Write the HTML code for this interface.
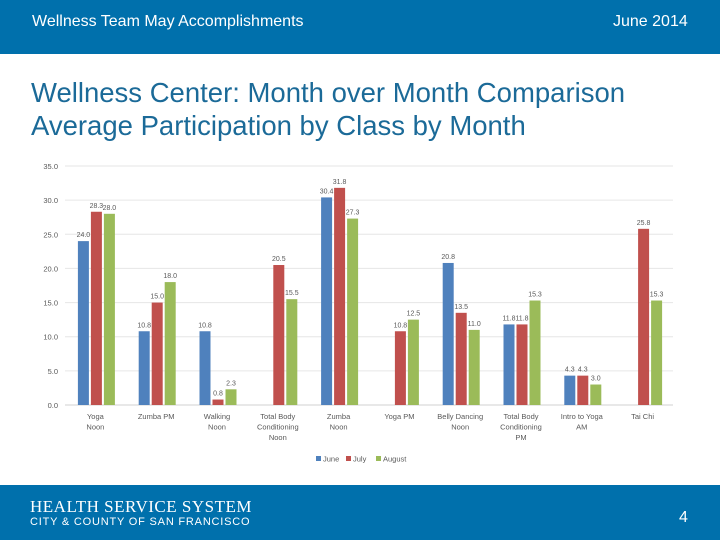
<!DOCTYPE html>
<html><head><meta charset="utf-8"><style>
body{margin:0;width:720px;height:540px;position:relative;background:#fff;font-family:"Liberation Sans",sans-serif;overflow:hidden}
#hdr{position:absolute;left:0;top:0;width:720px;height:54px;background:#0070ac}
#ftr{position:absolute;left:0;top:485px;width:720px;height:55px;background:#0070ac}
.t{position:absolute;white-space:nowrap}
</style></head><body>
<div id="hdr">
<div class="t" style="left:32px;top:13px;font-size:16px;color:#fff">Wellness Team May Accomplishments</div>
<div class="t" style="left:613px;top:13px;font-size:16px;color:#fff">June 2014</div>
</div>
<div class="t" style="left:31px;top:76px;font-size:27.5px;color:#1b6a98;line-height:33px">Wellness Center: Month over Month Comparison<br>Average Participation by Class by Month</div>
<svg id="chart" width="720" height="540" style="position:absolute;left:0;top:0"></svg>
<div id="ftr">
<div class="t" style="left:30px;top:12px;font-size:17px;color:#fff;font-family:'Liberation Serif',serif;letter-spacing:0.5px">HEALTH SERVICE SYSTEM</div>
<div class="t" style="left:30px;top:31px;font-size:11px;color:#fff;letter-spacing:0.8px">CITY &amp; COUNTY OF SAN FRANCISCO</div>
<div class="t" style="left:679px;top:24px;font-size:16px;color:#fff">4</div>
</div>
<script>
const categories=[["Yoga","Noon"],["Zumba PM"],["Walking","Noon"],["Total Body","Conditioning","Noon"],["Zumba","Noon"],["Yoga PM"],["Belly Dancing","Noon"],["Total Body","Conditioning","PM"],["Intro to Yoga","AM"],["Tai Chi"]];
const june=[24.0,10.8,10.8,null,30.4,null,20.8,11.8,4.3,null];
const july=[28.3,15.0,0.8,20.5,31.8,10.8,13.5,11.8,4.3,25.8];
const august=[28.0,18.0,2.3,15.5,27.3,12.5,11.0,15.3,3.0,15.3];
const seriesNames=["June","July","August"];
const seriesColors=["#4f81bd","#c0504d","#9bbb59"];
const yTicks=[0,5,10,15,20,25,30,35];
const svg=document.getElementById('chart');
const NS="http://www.w3.org/2000/svg";
const x0=65,x1=673,y0=405,yTop=166,yMax=35;
const y=v=>y0-(v/yMax)*(y0-yTop);
const cw=(x1-x0)/categories.length;
const xc=i=>x0+cw*(i+0.5);
function mk(t,a){const e=document.createElementNS(NS,t);for(const k in a)e.setAttribute(k,a[k]);svg.appendChild(e);return e;}
yTicks.forEach(v=>{
 const g=mk('line',{x1:x0,x2:x1,y1:y(v),y2:y(v),stroke:v===0?'#d0d0d0':'#e6e6e6','stroke-width':1});
 
 
 const t=mk('text',{x:58,y:y(v)+3,'text-anchor':'end','font-size':7.5,fill:'#595959'});
 t.textContent=v.toFixed(1);
 
 
});
const series=[june,july,august];
const bw=11,gap=2;
categories.forEach((c,i)=>{
 series.forEach((s,j)=>{
  const v=s[i];if(v==null)return;
  const bx=xc(i)-(3*bw+2*gap)/2+j*(bw+gap)+1;
  const r=mk('rect',{x:bx,y:y(v),width:bw,height:y0-y(v),fill:seriesColors[j]});
  
  
  const t=mk('text',{x:bx+bw/2,y:y(v)-4,'text-anchor':'middle','font-size':7,fill:'#595959'});
  t.textContent=v.toFixed(1);
  
  
 });
 c.forEach((ln,k)=>{
  const t=mk('text',{x:xc(i),y:419+k*10.5,'text-anchor':'middle','font-size':7.5,fill:'#595959'});
  t.textContent=ln;
  
  
 });
});
const lx=[316,346,376];
seriesNames.forEach((n,j)=>{
 const r=mk('rect',{x:lx[j],y:456,width:5,height:5,fill:seriesColors[j]});
 
 
 const t=mk('text',{x:lx[j]+7,y:461.5,'font-size':7.5,fill:'#595959'});
 t.textContent=n;
 
 
});
</script>
</body></html>
